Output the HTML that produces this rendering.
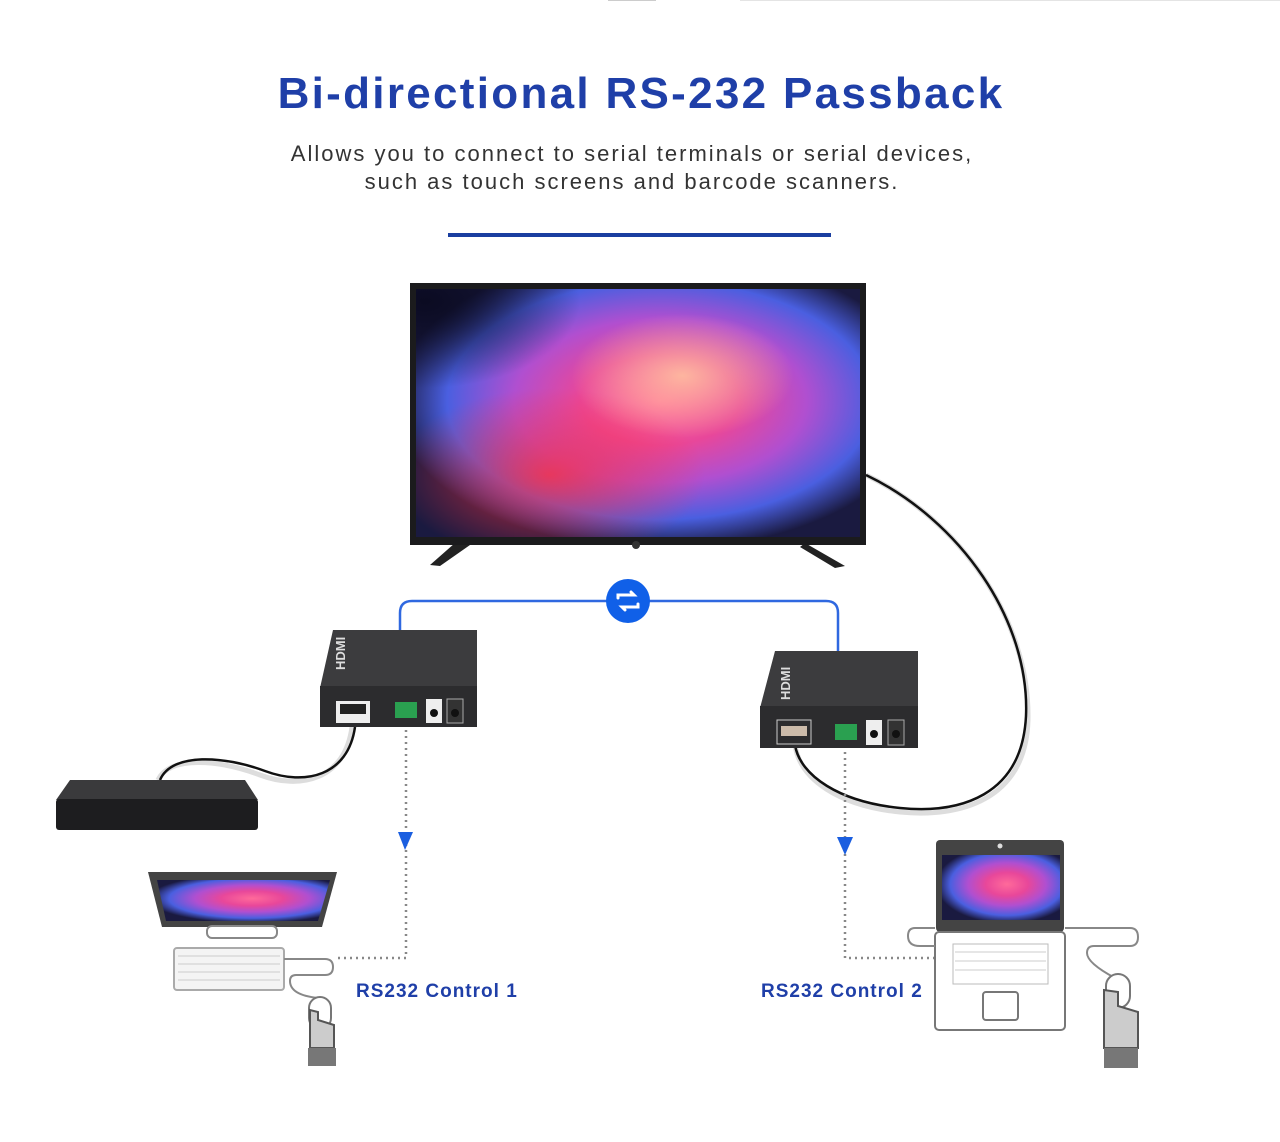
<!DOCTYPE html>
<html><head><meta charset="utf-8"><style>
html,body{margin:0;padding:0;background:#fff;}
body{width:1280px;height:1137px;overflow:hidden;position:relative;font-family:"Liberation Sans",sans-serif;}
</style></head><body>
<svg width="1280" height="1137" viewBox="0 0 1280 1137" xmlns="http://www.w3.org/2000/svg">
<defs>
<radialGradient id="fl" cx="0.55" cy="0.45" r="0.6">
<stop offset="0" stop-color="#ff6a9a"/><stop offset="0.3" stop-color="#e8479a"/><stop offset="0.55" stop-color="#b04fd0"/><stop offset="0.8" stop-color="#4a5fe0"/><stop offset="1" stop-color="#1a1a40"/>
</radialGradient>
<radialGradient id="fl2" cx="0.3" cy="0.75" r="0.35">
<stop offset="0" stop-color="#ff3040" stop-opacity="0.8"/><stop offset="1" stop-color="#ff3040" stop-opacity="0"/>
</radialGradient>
<radialGradient id="fl3" cx="0.6" cy="0.35" r="0.25">
<stop offset="0" stop-color="#ffc0a0" stop-opacity="0.9"/><stop offset="1" stop-color="#ffc0a0" stop-opacity="0"/>
</radialGradient>
<radialGradient id="dk" cx="0.02" cy="0.05" r="0.35">
<stop offset="0" stop-color="#0a0a20" stop-opacity="0.95"/><stop offset="1" stop-color="#0a0a20" stop-opacity="0"/>
</radialGradient>
</defs>
<line x1="608" y1="0.5" x2="656" y2="0.5" stroke="#ccc"/>
<line x1="740" y1="0.5" x2="1280" y2="0.5" stroke="#e4e4e4"/>
<text x="641" y="108" text-anchor="middle" font-family="Liberation Sans" font-weight="bold" font-size="44" fill="#1f3fa8" letter-spacing="2.3">Bi-directional RS-232 Passback</text>
<text x="632" y="161" text-anchor="middle" font-size="22" fill="#333" letter-spacing="2">Allows you to connect to serial terminals or serial devices,</text>
<text x="632" y="189" text-anchor="middle" font-size="22" fill="#333" letter-spacing="2">such as touch screens and barcode scanners.</text>
<rect x="448" y="233" width="383" height="4" fill="#1a3ea0"/>

<!-- cables -->
<path d="M866 475 C960 520 1030 620 1028 720 C1026 800 960 818 900 812 C840 806 800 780 795 745" fill="none" stroke="#ddd" stroke-width="5"/>
<path d="M866 475 C960 520 1030 620 1026 716 C1022 796 960 814 900 808 C840 802 800 776 795 745" fill="none" stroke="#111" stroke-width="2.5"/>
<path d="M352 727 C345 780 300 790 260 775 C220 760 170 755 158 780" fill="none" stroke="#ddd" stroke-width="5"/>
<path d="M355 727 C348 776 305 786 265 771 C225 756 172 752 160 780" fill="none" stroke="#111" stroke-width="2.5"/>

<!-- TV -->
<path d="M455 543 L430 565 L440 566 L470 545Z M805 543 L845 566 L835 568 L800 547Z" fill="#222"/>
<rect x="410" y="283" width="456" height="262" fill="#1b1b1d"/>
<rect x="416" y="289" width="444" height="248" fill="url(#fl)"/>
<rect x="416" y="289" width="444" height="248" fill="url(#fl2)"/>
<rect x="416" y="289" width="444" height="248" fill="url(#fl3)"/>
<rect x="416" y="289" width="444" height="248" fill="url(#dk)"/>
<circle cx="636" cy="545" r="4" fill="#333"/>

<!-- blue link -->
<path d="M400 632 V613 Q400 601 412 601 H826 Q838 601 838 613 V652" fill="none" stroke="#2f68e0" stroke-width="2.5"/>
<circle cx="628" cy="601" r="22" fill="#1060e8"/>
<path d="M618 598 v-3 h16 l-3 -3 M638 604 v3 h-16 l3 3" fill="none" stroke="#fff" stroke-width="3" stroke-linecap="round"/>

<!-- left extender -->
<path d="M333 630 L477 630 L477 688 L320 688Z" fill="#3c3c3e"/>
<rect x="320" y="686" width="157" height="41" fill="#2c2c2e"/>
<rect x="336" y="701" width="34" height="22" fill="#eee"/><rect x="340" y="704" width="26" height="10" fill="#222"/>
<rect x="395" y="702" width="22" height="16" fill="#2aa050"/>
<rect x="426" y="699" width="16" height="24" fill="#eee"/><circle cx="434" cy="713" r="4" fill="#111"/>
<rect x="447" y="699" width="16" height="24" fill="#333" stroke="#aaa"/><circle cx="455" cy="713" r="4" fill="#111"/>
<text x="345" y="670" font-size="13" font-weight="bold" fill="#ddd" transform="rotate(-90 345 670)">HDMI</text>
<!-- right extender -->
<path d="M775 651 L918 651 L918 708 L760 708Z" fill="#3c3c3e"/>
<rect x="760" y="706" width="158" height="42" fill="#2c2c2e"/>
<rect x="777" y="720" width="34" height="24" fill="#2c2c2e" stroke="#ccc"/><rect x="781" y="726" width="26" height="10" fill="#cba"/>
<rect x="835" y="724" width="22" height="16" fill="#2aa050"/>
<rect x="866" y="720" width="16" height="25" fill="#eee"/><circle cx="874" cy="734" r="4" fill="#111"/>
<rect x="888" y="720" width="16" height="25" fill="#333" stroke="#aaa"/><circle cx="896" cy="734" r="4" fill="#111"/>
<text x="790" y="700" font-size="13" font-weight="bold" fill="#ddd" transform="rotate(-90 790 700)">HDMI</text>

<!-- blu-ray -->
<path d="M70 780 L245 780 L258 800 L56 800Z" fill="#3a3a3c"/>
<rect x="56" y="799" width="202" height="31" rx="3" fill="#1d1d1f"/>

<!-- dotted lines -->
<path d="M406 730 V958 H336" fill="none" stroke="#888" stroke-width="2.5" stroke-dasharray="2 4"/>
<path d="M845 752 V958 H935" fill="none" stroke="#888" stroke-width="2.5" stroke-dasharray="2 4"/>
<path d="M398 832 L413 832 L405 850Z" fill="#1a5ee0"/>
<path d="M837 837 L853 837 L845 855Z" fill="#1a5ee0"/>

<!-- desktop -->
<path d="M148 872 L337 872 L322 927 L162 927Z" fill="#444"/>
<path d="M157 880 L330 880 L318 921 L166 921Z" fill="url(#fl)"/>
<rect x="207" y="926" width="70" height="12" rx="5" fill="none" stroke="#888" stroke-width="2"/>
<rect x="174" y="948" width="110" height="42" rx="3" fill="#f4f4f4" stroke="#aaa" stroke-width="2"/>
<g stroke="#ccc" stroke-width="1">
<line x1="178" y1="956" x2="280" y2="956"/><line x1="178" y1="964" x2="280" y2="964"/><line x1="178" y1="972" x2="280" y2="972"/><line x1="178" y1="980" x2="280" y2="980"/></g>
<path d="M284 959 H325 Q333 959 333 967 Q333 975 325 975 H296 Q290 975 290 981 Q290 995 318 998" fill="none" stroke="#888" stroke-width="2"/>
<rect x="309" y="997" width="22" height="32" rx="11" fill="#fff" stroke="#777" stroke-width="2"/>
<path d="M310 1010 L310 1048 L334 1048 L334 1025 L318 1020 L318 1012 Z" fill="#ccc" stroke="#555" stroke-width="2"/>
<rect x="308" y="1048" width="28" height="18" fill="#777"/>
<text x="356" y="997" font-size="19" font-weight="bold" fill="#1f3fa8" letter-spacing="1">RS232 Control 1</text>

<!-- laptop -->
<rect x="936" y="840" width="128" height="92" rx="4" fill="#444"/>
<rect x="942" y="855" width="118" height="65" fill="url(#fl)"/>
<circle cx="1000" cy="846" r="2.5" fill="#ddd"/>
<rect x="935" y="932" width="130" height="98" rx="4" fill="#fff" stroke="#777" stroke-width="2"/>
<rect x="953" y="944" width="95" height="40" fill="#fff" stroke="#bbb"/>
<g stroke="#ccc"><line x1="955" y1="952" x2="1046" y2="952"/><line x1="955" y1="961" x2="1046" y2="961"/><line x1="955" y1="970" x2="1046" y2="970"/></g>
<rect x="983" y="992" width="35" height="28" rx="3" fill="none" stroke="#777" stroke-width="2"/>
<path d="M935 928 H915 Q908 928 908 936 Q908 946 920 946 H935" fill="none" stroke="#888" stroke-width="2"/>
<path d="M1065 928 H1130 Q1138 928 1138 937 Q1138 946 1130 946 H1094 Q1087 946 1087 953 Q1087 963 1115 978" fill="none" stroke="#888" stroke-width="2"/>
<rect x="1106" y="974" width="24" height="34" rx="12" fill="#fff" stroke="#777" stroke-width="2"/>
<path d="M1104 990 L1104 1048 L1138 1048 L1138 1012 L1118 1006 L1118 992 Z" fill="#ccc" stroke="#555" stroke-width="2"/>
<rect x="1104" y="1048" width="34" height="20" fill="#777"/>
<text x="761" y="997" font-size="19" font-weight="bold" fill="#1f3fa8" letter-spacing="1">RS232 Control 2</text>
</svg>
</body></html>
